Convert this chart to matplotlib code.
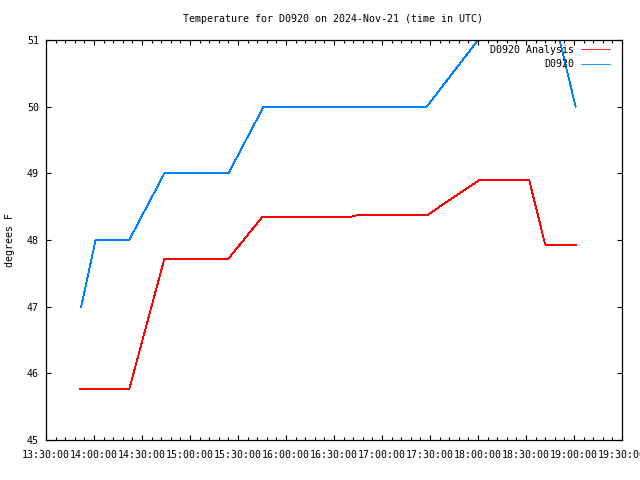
import matplotlib
matplotlib.use("Agg")
from matplotlib import pyplot as plt
import matplotlib.dates as mdates
import pandas as pd

day = "2024-11-21 "

# station obs (D0920)
obs_times = ["13:52", "14:01", "14:22", "14:44", "15:24", "15:46", "17:28", "18:00", "18:51", "19:01"]
obs_temps = [47.0, 48.0, 48.0, 49.0, 49.0, 50.0, 50.0, 51.0, 51.0, 50.0]

# analysis values
ana_times = ["13:51", "14:22", "14:44", "15:24", "15:45", "16:39", "16:44", "17:28", "18:01", "18:32", "18:42", "19:01"]
ana_temps = [45.76, 45.76, 47.72, 47.72, 48.34, 48.34, 48.37, 48.37, 48.90, 48.90, 47.93, 47.93]

obs_t = pd.to_datetime([day + t for t in obs_times])
ana_t = pd.to_datetime([day + t for t in ana_times])

plt.rcParams['font.family'] = ['DejaVu Sans Mono']
fs = 7.2

fig = plt.figure(figsize=(6.4, 4.8), dpi=100)
ax = fig.add_axes([46/640, 40/480, 576/640, 400/480])

ax.plot(ana_t, ana_temps, color="#ff0000", lw=0.6, antialiased=False, label="D0920 Analysis")
ax.plot(obs_t, obs_temps, color="#0080ff", lw=0.6, antialiased=False, label="D0920")

ax.set_xlim(pd.Timestamp(day + "13:30"), pd.Timestamp(day + "19:30"))
ax.set_ylim(45, 51)
ax.xaxis.set_major_locator(mdates.MinuteLocator(byminute=[0, 30]))
ax.xaxis.set_minor_locator(mdates.MinuteLocator(byminute=range(0, 60, 6)))
ax.xaxis.set_major_formatter(mdates.DateFormatter("%H:%M:%S"))
ax.set_yticks([45, 46, 47, 48, 49, 50, 51])

ax.tick_params(which="both", direction="in", top=True, right=True, labelsize=fs, width=0.8)
ax.tick_params(which="major", length=3.5)
ax.tick_params(which="minor", length=2)
ax.tick_params(axis="x", pad=7)
ax.tick_params(axis="y", pad=5)
for s in ax.spines.values():
    s.set_linewidth(0.9)

fig.text(333/640, 1 - 19/480, "Temperature for D0920 on 2024-Nov-21 (time in UTC)",
         ha="center", va="center", fontsize=fs)
fig.text(10/640, 0.5, "degrees F", rotation=90, ha="center", va="center", fontsize=fs)

ax.legend(loc="upper right", bbox_to_anchor=((610-46)/576, (440-45)/400), frameon=False,
          markerfirst=False, fontsize=fs, borderpad=0, borderaxespad=0,
          handlelength=2.9, handletextpad=0.7, labelspacing=0.45)

fig.savefig("out.png", dpi=100)
